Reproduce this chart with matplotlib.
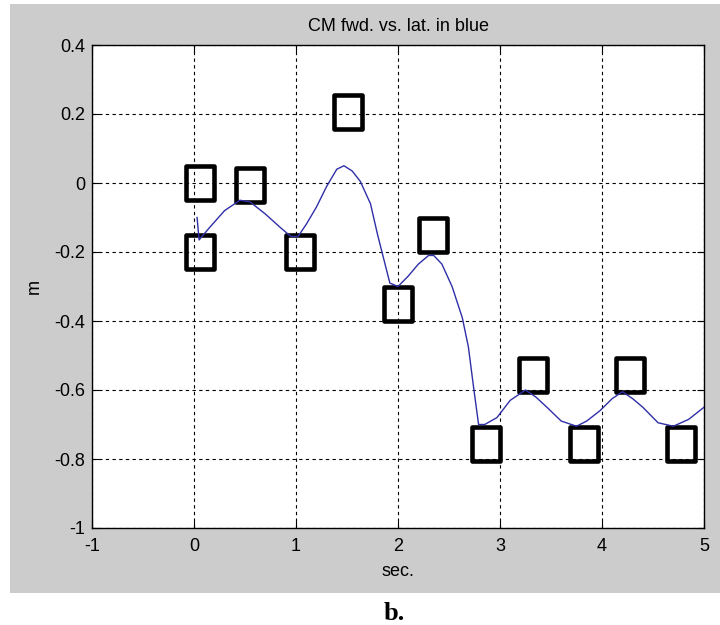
"""
Centre of mass forward vs. lateral, with footstep boxes (MATLAB-style figure).
Writes out.png next to where it is run.
"""

import matplotlib
matplotlib.use("Agg")
import matplotlib.pyplot as plt
from matplotlib.patches import Rectangle
from matplotlib.path import Path


# ------------------------------------------------------------------
# Data
# ------------------------------------------------------------------

# CM trajectory (blue line)
cm_t = [0.03, 0.05, 0.15, 0.30, 0.45, 0.55, 0.70, 0.85, 0.95, 1.02,
        1.10, 1.20, 1.30, 1.40, 1.47, 1.55, 1.63, 1.73, 1.80, 1.86,
        1.92, 2.00, 2.10, 2.20, 2.30, 2.35, 2.43, 2.53, 2.63, 2.69,
        2.74, 2.79, 2.85, 2.97, 3.10, 3.25, 3.35, 3.46, 3.60, 3.75,
        3.85, 3.98, 4.10, 4.20, 4.30, 4.40, 4.55, 4.70, 4.85, 5.00]
cm_y = [-0.10, -0.165, -0.13, -0.08, -0.05, -0.055, -0.09, -0.13, -0.155, -0.155,
        -0.12, -0.07, -0.01, 0.04, 0.05, 0.035, 0.005, -0.06, -0.15, -0.22,
        -0.29, -0.30, -0.27, -0.235, -0.21, -0.21, -0.235, -0.30, -0.39, -0.475,
        -0.59, -0.70, -0.70, -0.68, -0.63, -0.60, -0.62, -0.65, -0.69, -0.705,
        -0.69, -0.66, -0.625, -0.605, -0.625, -0.65, -0.695, -0.705, -0.685, -0.65]

# footstep boxes
foot_t = [0.06, 0.55, 0.06, 1.04, 1.51, 2.00, 2.34, 2.86, 3.32, 3.82, 4.27, 4.77]
foot_y = [0.00, -0.005, -0.20, -0.20, 0.205, -0.35, -0.15, -0.757, -0.556, -0.757, -0.556, -0.757]

x_ticks = [-1, 0, 1, 2, 3, 4, 5]
y_ticks = [-1, -0.8, -0.6, -0.4, -0.2, 0, 0.2, 0.4]
y_tick_labels = ["-1", "-0.8", "-0.6", "-0.4", "-0.2", "0", "0.2", "0.4"]


# ------------------------------------------------------------------
# Figure
# ------------------------------------------------------------------

plt.rcParams["font.family"] = ["Liberation Sans", "DejaVu Sans"]
plt.rcParams["axes.unicode_minus"] = False

W, H = 720, 625
fig = plt.figure(figsize=(W / 100, H / 100), dpi=100)
fig.patch.set_facecolor("white")

# grey MATLAB figure window
fig.patches.append(Rectangle((10 / W, 1 - 593 / H), 710 / W, 589 / H,
                             transform=fig.transFigure, facecolor="#cccccc",
                             edgecolor="none", zorder=-10))

ax = fig.add_axes([92 / W, 1 - 528 / H, 612 / W, 483 / H])
ax.set_facecolor("white")

# tall box marker (outline only)
bw, bh = 0.41, 0.5
box = Path([(-bw, -bh), (bw, -bh), (bw, bh), (-bw, bh), (-bw, -bh)],
           [Path.MOVETO, Path.LINETO, Path.LINETO, Path.LINETO, Path.CLOSEPOLY])

ax.plot(foot_t, foot_y, linestyle="none", marker=box, markersize=24.5,
        markerfacecolor="none", markeredgecolor="black", markeredgewidth=3.3,
        zorder=3)
ax.plot(cm_t, cm_y, color="#2f2fa8", linewidth=1.0, zorder=4)

ax.set_xlim(-1, 5)
ax.set_ylim(-1, 0.4)
ax.set_xticks(x_ticks)
ax.set_yticks(y_ticks)
ax.set_yticklabels(y_tick_labels)
ax.tick_params(direction="in", length=5, width=0.8, labelsize=13, colors="black")
ax.tick_params(axis="x", pad=7)
ax.tick_params(axis="y", pad=5)
ax.tick_params(top=True, right=True)

ax.grid(True, color="black", linestyle=(0, (3, 3)), linewidth=0.8)
ax.set_axisbelow(True)
for s in ax.spines.values():
    s.set_linewidth(1.0)
    s.set_color("black")

ax.set_title("CM fwd. vs. lat. in blue", fontsize=13, pad=10)
ax.set_xlabel("sec.", fontsize=13, labelpad=6)
ax.set_ylabel("m", fontsize=13, labelpad=8)

fig.text(394 / W, 1 - 614 / H, "b.", fontsize=19, fontweight="bold",
         family=["Liberation Serif", "DejaVu Serif"], ha="center", va="center")

fig.savefig("out.png", dpi=100, facecolor=fig.get_facecolor())
